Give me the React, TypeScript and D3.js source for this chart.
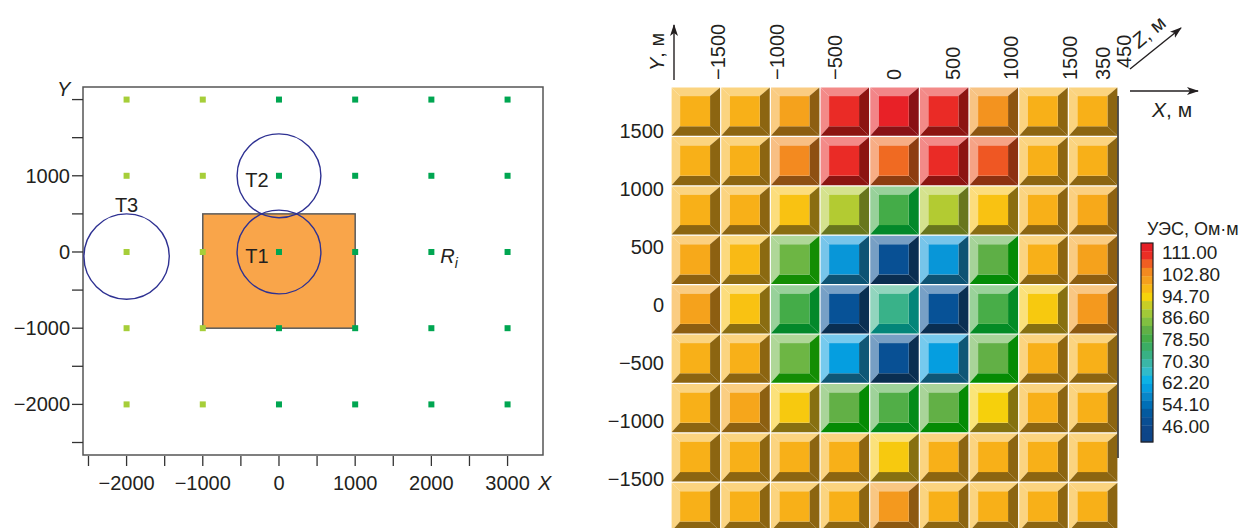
import React from 'react';
import * as d3 from 'd3';

// ---------- Left chart data ----------
const gridX = [-2000, -1000, 0, 1000, 2000, 3000];
const gridY = [2000, 1000, 0, -1000, -2000];
const anomalyX = [-1000, 1000];
const anomalyY = [-1000, 500];
const targetNames = ['T1', 'T2', 'T3'];
const targetX = [0, 0, -2000];
const targetY = [0, 1000, -60];
const targetR = [550, 550, 560];
const leftXTicks = [-2000, -1000, 0, 1000, 2000, 3000];
const leftXMinor = [-2500, -1500, -500, 500, 1500, 2500];
const leftYTicks = [1000, 0, -1000, -2000];
const leftYMinor = [2000, 1500, 500, -500, -1500, -2500];

// ---------- Right chart data (apparent resistivity, Ohm·m) ----------
const resistivity = [
  [98, 98, 100, 110, 111, 110, 102.5, 98, 98],
  [98, 98, 103.5, 110, 106, 110, 107, 98, 98],
  [98, 98, 96.5, 89.5, 78.5, 89.5, 96.5, 98, 99],
  [99, 97.2, 83, 59, 48, 59, 81.5, 98, 100],
  [100, 96.5, 78.5, 49, 72, 49, 79, 95.5, 101.5],
  [98, 98, 83, 60, 48, 60, 82, 98, 98],
  [98, 99.5, 95.5, 82, 80, 82, 94.5, 98, 98],
  [98, 98, 98, 98, 95.5, 98, 98, 98, 98],
  [98, 98, 98, 98, 101.5, 98, 98, 98, 98],
];
const rightXTicks = [-1500, -1000, -500, 0, 500, 1000, 1500];
const rightYTicks = [1500, 1000, 500, 0, -500, -1000, -1500];
const zTicks = [350, 450];
const legendTicks = [111, 102.8, 94.7, 86.6, 78.5, 70.3, 62.2, 54.1, 46];
const colorStops = [44, 46, 50, 54, 58, 62, 66, 70, 74, 78.5, 82, 86, 90, 94, 96.5, 98, 100, 103, 106, 108.5, 111, 114];
const stopColors = ['#0d4588', '#0b4a8e', '#05559a', '#0070b8', '#0a8ed0', '#00aeef', '#30bbcc', '#3cb5a0', '#36ae72', '#44ac48', '#62b046', '#8dc63f', '#b8cc30', '#f5d40a', '#f9c212', '#f8b018', '#f5a21c', '#f39020', '#f06a22', '#ee3a24', '#e82127', '#e31e26'];

const FONT = '"Liberation Sans", Arial, Helvetica, sans-serif';
const TXT = '#231f20';
const fmt = (v: number) => (v < 0 ? '\u2212' + Math.abs(v) : String(v));

function LeftChart() {
  const x = d3.scaleLinear().domain([-2572, 3465]).range([83, 543]);
  const y = d3.scaleLinear().domain([-2664, 2165]).range([455, 87]);
  const pts: { gx: number; gy: number }[] = [];
  gridY.forEach((gy) => gridX.forEach((gx) => pts.push({ gx, gy })));
  const ptColor = (gx: number) => (gx < 0 ? '#a6ce39' : '#00a651');
  return (
    <g fontFamily={FONT} fill={TXT}>
      <rect x={x(-2572)} y={y(2165)} width={x(3465) - x(-2572)} height={y(-2664) - y(2165)} fill="#fff" stroke="#555" strokeWidth={1.5} />
      <rect
        x={x(anomalyX[0])}
        y={y(anomalyY[1])}
        width={x(anomalyX[1]) - x(anomalyX[0])}
        height={y(anomalyY[0]) - y(anomalyY[1])}
        fill="#f9a54a"
        stroke="#5a5a5a"
        strokeWidth={1.5}
      />
      {targetNames.map((n, i) => (
        <circle key={n} cx={x(targetX[i])} cy={y(targetY[i])} r={x(targetR[i]) - x(0)} fill="none" stroke="#2e3192" strokeWidth={1.4} />
      ))}
      {pts.map((p, i) => (
        <rect key={i} x={x(p.gx) - 3} y={y(p.gy) - 3} width={6} height={6} fill={ptColor(p.gx)} />
      ))}
      {[...leftXTicks, ...leftXMinor].map((v) => (
        <line key={'xt' + v} x1={x(v)} x2={x(v)} y1={456} y2={466} stroke="#333" strokeWidth={1.3} />
      ))}
      {[...leftYTicks, ...leftYMinor].map((v) => (
        <line key={'yt' + v} x1={72} x2={83} y1={y(v)} y2={y(v)} stroke="#333" strokeWidth={1.3} />
      ))}
      {leftXTicks.map((v) => (
        <text key={'xl' + v} x={x(v)} y={490} fontSize={20} textAnchor="middle">{fmt(v)}</text>
      ))}
      <text x={538} y={490} fontSize={20} fontStyle="italic">X</text>
      {leftYTicks.map((v) => (
        <text key={'yl' + v} x={70} y={y(v) + 7} fontSize={20} textAnchor="end">{fmt(v)}</text>
      ))}
      <text x={57} y={96} fontSize={20} fontStyle="italic">Y</text>
      {targetNames.map((n, i) => {
        const dx = i === 2 ? 0 : -22;
        const dy = i === 2 ? -45 : 11;
        return (
          <text key={'tl' + n} x={x(targetX[i]) + dx} y={y(targetY[i]) + dy} fontSize={20} textAnchor="middle">{n}</text>
        );
      })}
      <text x={x(2000) + 9} y={y(0) + 11} fontSize={20} fontStyle="italic">
        R<tspan fontSize={14} dy={5}>i</tspan>
      </text>
    </g>
  );
}

function darkOf(base: string) {
  const h = d3.hsl(base);
  h.l = h.l * 0.58;
  h.s = Math.min(h.s, 0.78);
  if (h.h > 90 && h.h < 170) { h.s = 0.95; h.h = h.h + 15; }
  return h.formatHex();
}

function RightChart() {
  const color = d3.scaleLinear<string>().domain(colorStops).range(stopColors).interpolate(d3.interpolateRgb).clamp(true);
  const nCols = resistivity[0].length;
  const nRows = resistivity.length;
  const xb = d3.scaleBand<number>().domain(d3.range(nCols)).range([671, 1118]);
  const yb = d3.scaleBand<number>().domain(d3.range(nRows)).range([87, 87 + nRows * 49.4]);
  const rx = d3.scaleLinear().domain([-1500, 1500]).range([718, 1070]);
  const ry = d3.scaleLinear().domain([1500, -1500]).range([130.5, 479]);
  const zx = d3.scaleLinear().domain([350, 450]).range([1103, 1124]);
  const zy = d3.scaleLinear().domain([350, 450]).range([80, 68]);
  const ly = d3.scaleLinear().domain([111, 46]).range([252, 425.5]);
  const barTop = 243, barBot = 442, nBands = 24;
  const bh = (barBot - barTop) / nBands;

  const cells: React.ReactElement[] = [];
  resistivity.forEach((row, r) =>
    row.forEach((v, c) => {
      const base = color(v);
      const light = d3.interpolateRgb(base, '#ffffff')(0.45);
      const dark = darkOf(base);
      const x0 = xb(c)! + 0.6, y0 = yb(r)! + 0.6;
      const x1 = xb(c)! + xb.bandwidth() - 0.6, y1 = yb(r)! + yb.bandwidth() - 0.6;
      const ix0 = x0 + 8.5, iy0 = y0 + 8.5, ix1 = x1 - 10, iy1 = y1 - 9.5;
      const P = (a: number[][]) => a.map((p) => p.join(',')).join(' ');
      cells.push(
        <g key={r + '-' + c}>
          <polygon points={P([[x0, y0], [x1, y0], [ix1, iy0], [ix0, iy0]])} fill={light} />
          <polygon points={P([[x0, y0], [ix0, iy0], [ix0, iy1], [x0, y1]])} fill={light} />
          <polygon points={P([[x1, y0], [x1, y1], [ix1, iy1], [ix1, iy0]])} fill={dark} />
          <polygon points={P([[x0, y1], [ix0, iy1], [ix1, iy1], [x1, y1]])} fill={dark} />
          <rect x={ix0} y={iy0} width={ix1 - ix0} height={iy1 - iy0} fill={base} />
        </g>
      );
    })
  );

  return (
    <g fontFamily={FONT} fill={TXT}>
      <defs>
        <marker id="arr" viewBox="0 0 12 10" refX={11} refY={5} markerWidth={12} markerHeight={10} markerUnits="userSpaceOnUse" orient="auto">
          <path d="M0,1 L12,5 L0,9 L3,5 Z" fill="#231f20" />
        </marker>
      </defs>
      {cells}
      <line x1={1118} x2={1118} y1={96} y2={458} stroke="#222" strokeWidth={1.5} />
      {rightXTicks.map((v) => (
        <text key={'rx' + v} transform={`translate(${rx(v) + 7},80) rotate(-90)`} fontSize={20}>{fmt(v)}</text>
      ))}
      {zTicks.map((v) => (
        <text key={'z' + v} transform={`translate(${zx(v) + 7},${zy(v)}) rotate(-90)`} fontSize={20}>{fmt(v)}</text>
      ))}
      {rightYTicks.map((v) => (
        <text key={'ry' + v} x={664} y={ry(v) + 7} fontSize={20} textAnchor="end">{fmt(v)}</text>
      ))}
      <line x1={674} y1={80} x2={674} y2={25} stroke="#231f20" strokeWidth={1.4} markerEnd="url(#arr)" />
      <text transform="translate(664,71) rotate(-90)" fontSize={20}>
        <tspan fontStyle="italic">Y</tspan>, м
      </text>
      <line x1={1130} y1={91} x2={1198} y2={91} stroke="#231f20" strokeWidth={1.4} markerEnd="url(#arr)" />
      <text x={1152} y={117} fontSize={21}>
        <tspan fontStyle="italic">X</tspan>, м
      </text>
      <line x1={1130} y1={69} x2={1181} y2={28} stroke="#231f20" strokeWidth={1.4} markerEnd="url(#arr)" />
      <text transform="translate(1139,49) rotate(-40)" fontSize={20}>
        <tspan fontStyle="italic">Z</tspan>, м
      </text>
      <text x={1147} y={235} fontSize={18}>УЭС, Ом·м</text>
      {d3.range(nBands).map((i) => (
        <rect key={'lb' + i} x={1141} y={barTop + i * bh} width={12} height={bh + 0.3} fill={color(ly.invert(barTop + (i + 0.5) * bh))} />
      ))}
      <rect x={1141} y={barTop} width={12} height={barBot - barTop} fill="none" stroke="#231f20" strokeWidth={1.2} />
      {legendTicks.map((v) => (
        <text key={'lt' + v} x={1162} y={ly(v) + 7} fontSize={19}>{v.toFixed(2)}</text>
      ))}
    </g>
  );
}

export default function App() {
  return (
    <svg width={1244} height={528} style={{ position: 'absolute', left: 0, top: 0, background: '#fff' }}>
      <rect width={1244} height={528} fill="#fff" />
      <LeftChart />
      <RightChart />
    </svg>
  );
}
